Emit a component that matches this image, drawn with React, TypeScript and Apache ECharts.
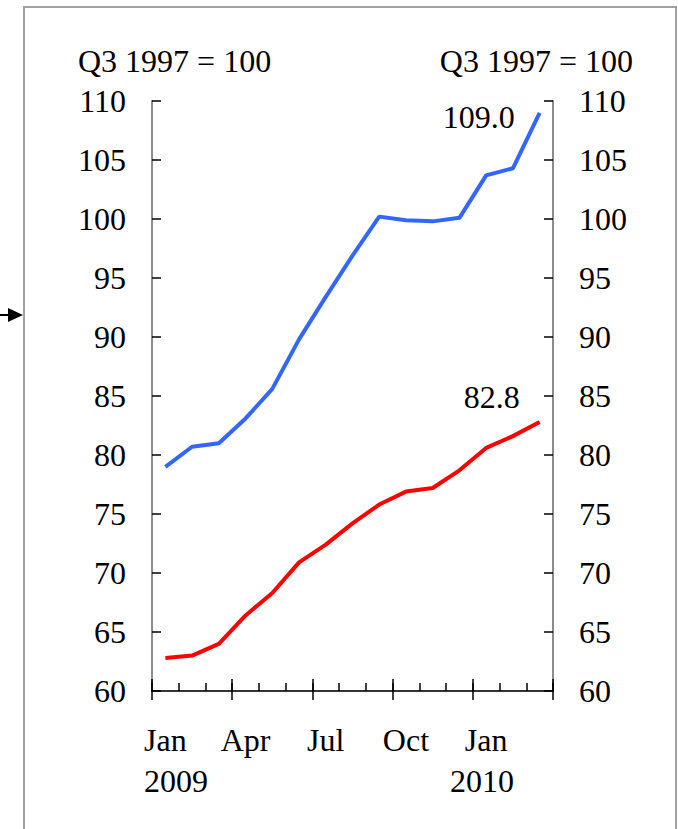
import React, { useEffect, useRef } from "react";
import * as echarts from "echarts";

const months = ["Jan", "Feb", "Mar", "Apr", "May", "Jun", "Jul", "Aug", "Sep", "Oct", "Nov", "Dec", "Jan", "Feb", "Mar"];
const blueValues = [79.0, 80.7, 81.0, 83.1, 85.6, 89.8, 93.4, 96.9, 100.2, 99.9, 99.8, 100.1, 103.7, 104.3, 109.0];
const redValues = [62.8, 63.0, 64.0, 66.4, 68.3, 70.9, 72.4, 74.2, 75.8, 76.9, 77.2, 78.7, 80.6, 81.6, 82.8];
const yearLabels = ["2009", "2010"];
const unitLabel = "Q3 1997 = 100";

const FONT = "'Liberation Serif', 'Times New Roman', serif";
const FS = 32;

export default function App() {
  const ref = useRef<HTMLDivElement>(null);
  useEffect(() => {
    if (!ref.current) return;
    const chart = echarts.init(ref.current, null, { renderer: "svg" });
    const yCommon = {
      type: "value",
      min: 60,
      max: 110,
      interval: 5,
      splitLine: { show: false },
      axisLine: { show: true, lineStyle: { color: "#8c8c8c", width: 2 } },
      axisTick: { show: true, inside: true, length: 9, lineStyle: { color: "#000", width: 1.5 } },
      axisLabel: { color: "#000", fontSize: FS, fontFamily: FONT, margin: 26 },
    };
    const xCommon = {
      type: "category",
      data: months,
      boundaryGap: true,
      position: "bottom",
      axisLine: { show: true, lineStyle: { color: "#333", width: 1.5 } },
    };
    const lineSeries = (data: number[], color: string, offset: number[]) => ({
      type: "line",
      data,
      xAxisIndex: 0,
      yAxisIndex: 0,
      showSymbol: false,
      symbol: "none",
      lineStyle: { color, width: 4 },
      itemStyle: { color },
      endLabel: {
        show: true,
        distance: 0,
        offset,
        align: "right",
        verticalAlign: "middle",
        color: "#000",
        fontSize: FS,
        fontFamily: FONT,
        formatter: (p: any) => Number(p.value).toFixed(1),
      },
    });
    chart.setOption({
      animation: false,
      backgroundColor: "#fff",
      grid: { left: 152, right: 125, top: 101, bottom: 138, containLabel: false },
      xAxis: [
        {
          ...xCommon,
          axisTick: { show: true, inside: true, length: 8, interval: 0, lineStyle: { color: "#000", width: 1.5 } },
          axisLabel: { show: true, interval: 2, color: "#000", fontSize: FS, fontFamily: FONT, margin: 33 },
        },
        {
          ...xCommon,
          axisTick: { show: true, inside: true, length: 12, interval: 2, lineStyle: { color: "#000", width: 1.5 } },
          axisLabel: { show: false },
        },
        {
          ...xCommon,
          axisTick: { show: true, inside: false, length: 9, interval: 2, lineStyle: { color: "#000", width: 1.5 } },
          axisLabel: { show: false },
        },
      ],
      yAxis: [
        { ...yCommon, position: "left" },
        { ...yCommon, position: "right" },
      ],
      series: [
        lineSeries(blueValues, "#3366FF", [-25, 4]),
        lineSeries(redValues, "#FF0000", [-20, -25]),
      ],
      graphic: [
        {
          type: "rect",
          shape: { x: 24, y: 7, width: 652, height: 900 },
          style: { fill: "none", stroke: "#a0a0a0", lineWidth: 2 },
          z: -1,
        },
        {
          type: "line",
          shape: { x1: 0, y1: 315, x2: 10, y2: 315 },
          style: { stroke: "#000", lineWidth: 2 },
        },
        {
          type: "polygon",
          shape: { points: [[8, 308], [23, 315], [8, 322]] },
          style: { fill: "#000" },
        },
        {
          type: "text",
          x: 78,
          y: 61,
          style: { text: unitLabel, fill: "#000", font: `${FS}px ${FONT}`, textAlign: "left", textVerticalAlign: "middle" },
        },
        {
          type: "text",
          x: 633,
          y: 61,
          style: { text: unitLabel, fill: "#000", font: `${FS}px ${FONT}`, textAlign: "right", textVerticalAlign: "middle" },
        },
        {
          type: "text",
          x: 176,
          y: 781,
          style: { text: yearLabels[0], fill: "#000", font: `${FS}px ${FONT}`, textAlign: "center", textVerticalAlign: "middle" },
        },
        {
          type: "text",
          x: 482,
          y: 781,
          style: { text: yearLabels[1], fill: "#000", font: `${FS}px ${FONT}`, textAlign: "center", textVerticalAlign: "middle" },
        },
      ],
    });
    return () => chart.dispose();
  }, []);
  return (
    <div
      ref={ref}
      style={{ position: "absolute", left: 0, top: 0, width: 678, height: 829 }}
    />
  );
}
